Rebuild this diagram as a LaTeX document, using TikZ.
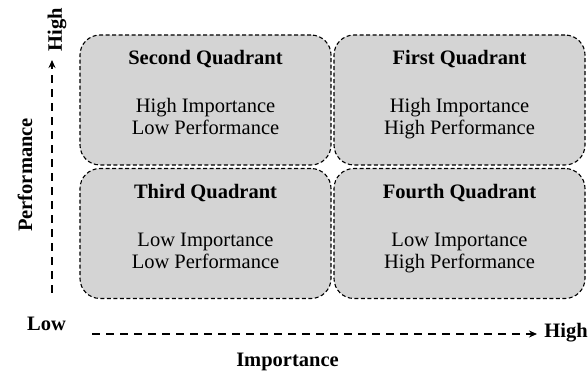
\documentclass[tikz,border=0pt]{standalone}
\usepackage{fontspec}
\setmainfont{Liberation Serif}
\usetikzlibrary{arrows.meta}
\definecolor{boxgray}{RGB}{212,212,212}
\begin{document}
\begin{tikzpicture}[x=1pt,y=1pt,
  qbox/.style={draw=black, fill=boxgray, line width=1.1pt, dash pattern=on 4pt off 2.5pt, rounded corners=20pt, minimum width=251pt, minimum height=130pt, inner sep=0pt},
  title/.style={font=\fontsize{20.5}{21.5}\selectfont\bfseries, inner sep=0pt, anchor=base},
  body/.style={font=\fontsize{20.5}{21.5}\selectfont, inner sep=0pt, anchor=base},
  axis/.style={line width=1.8pt, dash pattern=on 8pt off 6pt, -{Stealth[length=8pt,width=7pt]}},
  axlabel/.style={font=\fontsize{20.5}{21.5}\selectfont\bfseries, inner sep=0pt}]
\useasboundingbox (0,0) rectangle (588,374);
% boxes
\node[qbox] (q2) at (205.5,274) {};
\node[qbox] (q1) at (459.5,274) {};
\node[qbox] (q3) at (205.5,140.5) {};
\node[qbox] (q4) at (459.5,140.5) {};
% texts
\node[title] (t2) at (205.5,309) {Second Quadrant};
\node[body] (b2a) at (205.5,261) {High Importance};
\node[body] (b2b) at (205.5,239) {Low Performance};
\node[title] (t1) at (459.5,309) {First Quadrant};
\node[body] (b1a) at (459.5,261) {High Importance};
\node[body] (b1b) at (459.5,239) {High Performance};
\node[title] (t3) at (205.5,175.5) {Third Quadrant};
\node[body] (b3a) at (205.5,127.5) {Low Importance};
\node[body] (b3b) at (205.5,105.5) {Low Performance};
\node[title] (t4) at (459.5,175.5) {Fourth Quadrant};
\node[body] (b4a) at (459.5,127.5) {Low Importance};
\node[body] (b4b) at (459.5,105.5) {High Performance};
% axes
\coordinate (vs) at (52,81);
\coordinate (ve) at (52,314);
\coordinate (hs) at (92,40);
\coordinate (he) at (537,40);
\draw[axis] (vs) -- (ve);
\draw[axis] (hs) -- (he);
\node[axlabel, rotate=90] (vhigh) at (57,344) {High};
\node[axlabel, rotate=90] (perf) at (25,199) {Performance};
\node[axlabel, anchor=base] (low) at (46.5,43) {Low};
\node[axlabel, anchor=base] (hhigh) at (566,36) {High};
\node[axlabel, anchor=base] (imp) at (287.5,7.5) {Importance};
\end{tikzpicture}
\end{document}
